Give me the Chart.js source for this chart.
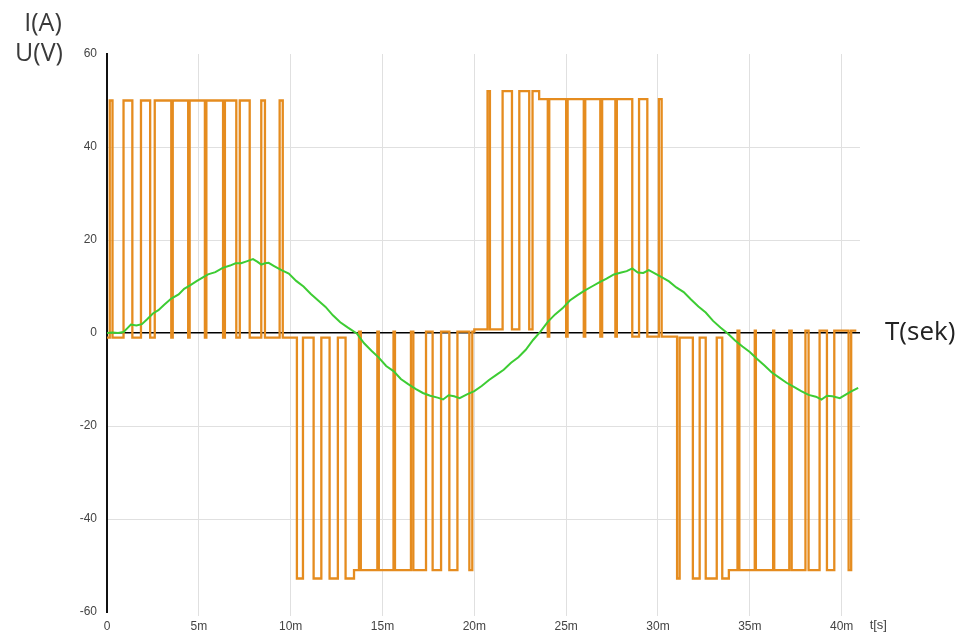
<!DOCTYPE html>
<html>
<head>
<meta charset="utf-8">
<title>PWM voltage and current</title>
<script src="https://cdn.jsdelivr.net/npm/chart.js@4"></script>
<style>
  html, body { margin: 0; padding: 0; background: #fff; }
  #wrap { width: 963px; height: 639px; position: relative; }
</style>
</head>
<body>
<div id="wrap"><canvas id="chart"></canvas></div>
<script>
'use strict';

// ── Data ─────────────────────────────────────────────────────────────────────

// x tick values (ms) and y tick values
const xTicks = [0, 5, 10, 15, 20, 25, 30, 35, 40];
const yTicks = [-60, -40, -20, 0, 20, 40, 60];

// PWM voltage: switching instants (ms) and the level held after each one (V)
const uTimes = [
  0, 0.15, 0.30, 0.9, 1.38, 1.85, 2.35, 2.6, 3.5, 3.58, 4.42, 4.5, 5.33, 5.41, 6.32,
  6.42, 7.04, 7.23, 7.77, 8.4, 8.6, 9.4, 9.57,
  10.34, 10.67, 11.25, 11.67, 12.12, 12.57, 12.99, 13.45, 13.72, 13.82, 14.72, 14.8,
  15.6, 15.68, 16.55, 16.68, 17.37, 17.73, 18.19, 18.64, 19.08, 19.73, 19.89,
  20.0, 20.72, 20.85, 21.54, 22.05, 22.45, 22.99, 23.17, 23.53, 24.0, 24.08, 25.0,
  25.08, 25.96, 26.04, 26.86, 26.96, 27.68, 27.76, 28.6, 28.97, 29.42, 30.05, 30.2,
  31.04, 31.18, 31.9, 32.27, 32.6, 33.2, 33.5, 33.86, 34.33, 34.43, 35.27, 35.33,
  36.27, 36.33, 37.15, 37.28, 38.03, 38.2, 38.8, 39.2, 39.6, 40.38, 40.52, 40.8
];
const uLevels = [
  -1, 50, -1, 50, -1, 50, -1, 50, -1, 50, -1, 50, -1, 50, -1,
  50, -1, 50, -1, 50, -1, 50, -1,
  -52.8, -1, -52.8, -1, -52.8, -1, -52.8, -51, 0.3, -51, 0.3, -51,
  0.3, -51, 0.3, -51, 0.3, -51, 0.3, -51, 0.3, -51, 0.3,
  0.8, 52, 0.8, 52, 0.8, 52, 0.8, 52, 50.3, -0.8, 50.3, -0.8,
  50.3, -0.8, 50.3, -0.8, 50.3, -0.8, 50.3, -0.8, 50.3, -0.8, 50.3, -0.8,
  -52.8, -1, -52.8, -1, -52.8, -1, -52.8, -51, 0.5, -51, 0.5, -51,
  0.5, -51, 0.5, -51, 0.5, -51, 0.5, -51, 0.5, -51, 0.5, 0.5
];

// Phase current: sample times (ms) and values (A)
const iTimes = [
  0, 0.3, 0.6, 0.9, 1.1, 1.3, 1.6, 1.9, 2.2, 2.5, 2.8, 3.1, 3.5, 3.9, 4.2, 4.5, 4.9,
  5.2, 5.5, 5.9, 6.3, 6.7, 7.0, 7.3, 7.6, 7.95, 8.2, 8.4, 8.6, 8.8, 9.1, 9.5, 9.9,
  10.3, 10.7, 11.1, 11.5, 11.9, 12.3, 12.7, 13.1, 13.6, 14.0, 14.4, 14.8, 15.2, 15.6,
  16.0, 16.4, 16.8, 17.2, 17.6, 18.0, 18.3, 18.6, 18.9, 19.2, 19.6, 20.0, 20.4, 20.8,
  21.2, 21.6, 22.0, 22.4, 22.8, 23.2, 23.6, 24.0, 24.4, 24.8, 25.2, 25.6, 26.0, 26.4,
  26.8, 27.2, 27.6, 28.0, 28.3, 28.6, 28.9, 29.2, 29.5, 29.8, 30.2, 30.6, 31.0, 31.4,
  31.8, 32.2, 32.6, 33.0, 33.4, 33.8, 34.2, 34.6, 35.0, 35.4, 35.8, 36.2, 36.6, 37.0,
  37.4, 37.8, 38.2, 38.6, 38.9, 39.2, 39.5, 39.9, 40.2, 40.5, 40.9
];
const iValues = [
  0, 0.1, 0.0, 0.2, 1.0, 1.8, 1.6, 1.9, 3.0, 4.2, 4.9, 6.0, 7.4, 8.3, 9.5, 10.2, 11.2,
  11.9, 12.6, 13.1, 14.0, 14.5, 15.0, 15.0, 15.4, 15.9, 15.3, 14.7, 15.0, 15.1, 14.4, 13.5, 12.8,
  11.2, 10.0, 8.4, 7.0, 5.6, 3.8, 2.3, 1.2, -0.1, -2.2, -3.8, -5.3, -7.1, -8.2,
  -9.9, -11.0, -12.0, -12.9, -13.5, -13.9, -14.3, -13.4, -13.6, -14.0, -13.2, -12.5, -11.4, -10.1,
  -9.0, -7.9, -6.4, -5.2, -3.6, -1.5, 0.3, 2.4, 4.0, 5.3, 7.0, 8.1, 9.1, 10.0,
  10.9, 11.7, 12.6, 13.0, 13.3, 13.9, 13.0, 12.9, 13.5, 12.9, 12.0, 11.1, 9.8, 8.8,
  7.2, 5.7, 4.4, 2.6, 1.2, -0.1, -1.6, -2.9, -4.1, -5.6, -7.0, -8.5, -9.6, -10.7,
  -11.6, -12.5, -13.3, -13.7, -14.3, -13.5, -13.6, -14.0, -13.3, -12.6, -11.8
];

// ── Chart ────────────────────────────────────────────────────────────────────

const tickFont = { family: "'Liberation Sans Narrow', 'Liberation Sans', Arial, sans-serif", size: 12 };
const labelFont = "'Open Sans', 'Noto Sans', sans-serif";

const axisLabels = {
  id: 'axisLabels',
  afterDraw(chart) {
    const { ctx, chartArea, scales } = chart;
    ctx.save();
    ctx.fillStyle = '#3a3a3a';
    ctx.textAlign = 'center';
    ctx.textBaseline = 'middle';
    ctx.font = `25px ${labelFont}`;
    ctx.fillText('I(A)', 43, 24);
    ctx.fillText('U(V)', 39, 54);
    ctx.textAlign = 'left';
    ctx.fillStyle = '#222';
    ctx.font = `26px ${labelFont}`;
    ctx.fillText('T(sek)', 885, scales.y.getPixelForValue(0));
    ctx.font = `13px ${tickFont.family}`;
    ctx.fillStyle = '#444';
    ctx.fillText('t[s]', scales.x.getPixelForValue(40) + 28, chartArea.bottom + 13);
    ctx.restore();
  }
};

new Chart(document.getElementById('chart'), {
  type: 'scatter',
  data: {
    datasets: [
      {
        label: 'U',
        data: uTimes.map((t, i) => ({ x: t, y: uLevels[i] })),
        showLine: true,
        stepped: true,
        borderColor: '#E58C1F',
        borderWidth: 2.3,
        pointRadius: 0,
        order: 2
      },
      {
        label: 'I',
        data: iTimes.map((t, i) => ({ x: t, y: iValues[i] })),
        showLine: true,
        borderColor: '#3DCC33',
        borderWidth: 2,
        pointRadius: 0,
        tension: 0,
        order: 1
      }
    ]
  },
  options: {
    responsive: true,
    maintainAspectRatio: false,
    animation: false,
    layout: { padding: { left: 0, right: 103, top: 54, bottom: 0 } },
    plugins: { legend: { display: false }, tooltip: { enabled: false } },
    scales: {
      x: {
        type: 'linear',
        min: 0,
        max: 41,
        afterFit: s => { s.height = 27; },
        afterBuildTicks: s => { s.ticks = xTicks.map(v => ({ value: v })); },
        border: { display: false },
        grid: {
          color: c => (c.tick && c.tick.value === 0 ? 'rgba(0,0,0,0)' : '#e0e0e0'),
          tickLength: 4
        },
        ticks: {
          font: tickFont,
          color: '#444',
          padding: 3,
          maxRotation: 0,
          callback: v => (v === 0 ? '0' : v + 'm')
        }
      },
      y: {
        min: -60,
        max: 60,
        afterFit: s => { s.width = 107; },
        afterBuildTicks: s => { s.ticks = yTicks.map(v => ({ value: v })); },
        border: { display: true, color: '#111', width: 2 },
        grid: {
          color: c => {
            const v = c.tick ? c.tick.value : null;
            if (v === 0) return '#000';
            if (v === 60 || v === -60) return 'rgba(0,0,0,0)';
            return '#e0e0e0';
          },
          lineWidth: c => (c.tick && c.tick.value === 0 ? 1.5 : 1),
          drawTicks: false
        },
        ticks: { font: tickFont, color: '#444', padding: 10 }
      }
    }
  },
  plugins: [axisLabels]
});
</script>
</body>
</html>
